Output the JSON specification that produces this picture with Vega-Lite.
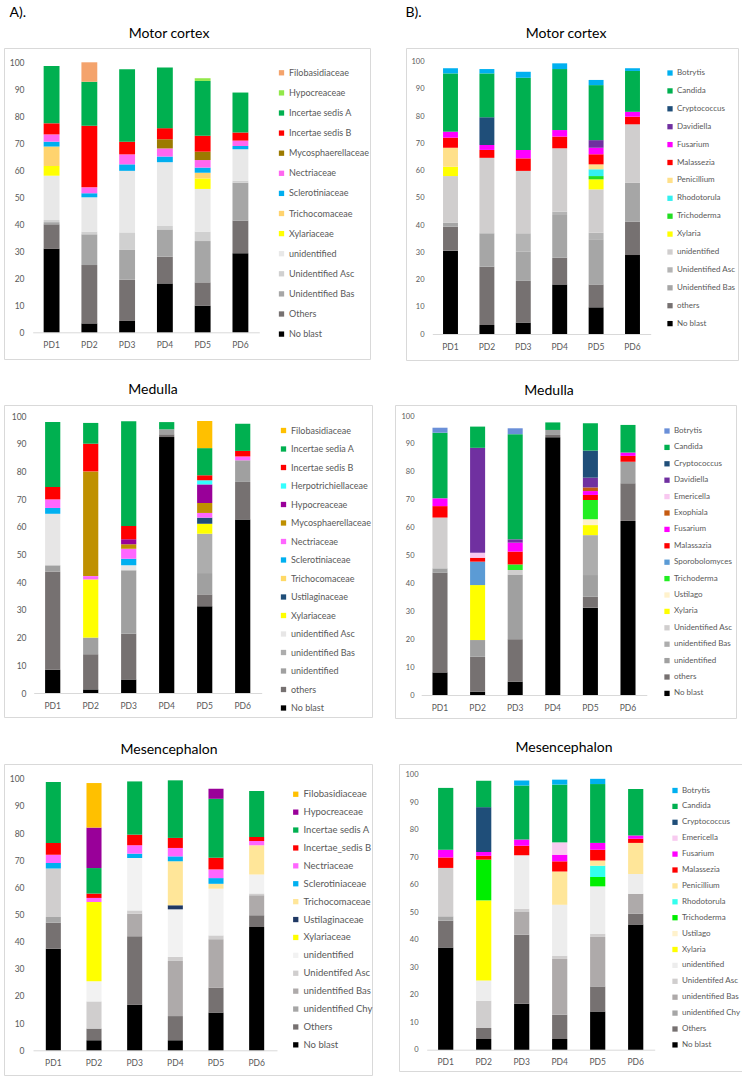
{
  "$schema": "https://vega.github.io/schema/vega-lite/v6.json",
  "padding": {"left": 3, "top": 5, "right": 0, "bottom": 0},
  "datasets": {
    "ma": [
      {"pd": "PD1", "t": "No blast", "v": 30.9}, {"pd": "PD1", "t": "Others", "v": 9.1}, {"pd": "PD1", "t": "Unidentified Bas", "v": 0.8}, {"pd": "PD1", "t": "Unidentified Asc", "v": 0.8}, {"pd": "PD1", "t": "unidentified", "v": 16.4}, {"pd": "PD1", "t": "Xylariaceae", "v": 3.6}, {"pd": "PD1", "t": "Trichocomaceae", "v": 7.2}, {"pd": "PD1", "t": "Sclerotiniaceae", "v": 1.8}, {"pd": "PD1", "t": "Nectriaceae", "v": 2.7}, {"pd": "PD1", "t": "Incertae sedis B", "v": 4.1}, {"pd": "PD1", "t": "Incertae sedis A", "v": 21.2},
      {"pd": "PD2", "t": "No blast", "v": 3.3}, {"pd": "PD2", "t": "Others", "v": 21.6}, {"pd": "PD2", "t": "Unidentified Bas", "v": 11.4}, {"pd": "PD2", "t": "Unidentified Asc", "v": 1.0}, {"pd": "PD2", "t": "unidentified", "v": 12.7}, {"pd": "PD2", "t": "Sclerotiniaceae", "v": 1.5}, {"pd": "PD2", "t": "Nectriaceae", "v": 2.2}, {"pd": "PD2", "t": "Incertae sedis B", "v": 22.8}, {"pd": "PD2", "t": "Incertae sedis A", "v": 16.3}, {"pd": "PD2", "t": "Filobasidiaceae", "v": 7.2},
      {"pd": "PD3", "t": "No blast", "v": 4.2}, {"pd": "PD3", "t": "Others", "v": 15.3}, {"pd": "PD3", "t": "Unidentified Bas", "v": 11.0}, {"pd": "PD3", "t": "Unidentified Asc", "v": 6.5}, {"pd": "PD3", "t": "unidentified", "v": 22.8}, {"pd": "PD3", "t": "Sclerotiniaceae", "v": 2.4}, {"pd": "PD3", "t": "Nectriaceae", "v": 3.7}, {"pd": "PD3", "t": "Incertae sedis B", "v": 4.7}, {"pd": "PD3", "t": "Incertae sedis A", "v": 26.8},
      {"pd": "PD4", "t": "No blast", "v": 18.1}, {"pd": "PD4", "t": "Others", "v": 9.9}, {"pd": "PD4", "t": "Unidentified Bas", "v": 10.1}, {"pd": "PD4", "t": "Unidentified Asc", "v": 1.3}, {"pd": "PD4", "t": "unidentified", "v": 23.6}, {"pd": "PD4", "t": "Sclerotiniaceae", "v": 2.1}, {"pd": "PD4", "t": "Nectriaceae", "v": 3.0}, {"pd": "PD4", "t": "Mycosphaerellaceae", "v": 3.4}, {"pd": "PD4", "t": "Incertae sedis B", "v": 4.1}, {"pd": "PD4", "t": "Incertae sedis A", "v": 22.5},
      {"pd": "PD5", "t": "No blast", "v": 9.9}, {"pd": "PD5", "t": "Others", "v": 8.6}, {"pd": "PD5", "t": "Unidentified Bas", "v": 15.3}, {"pd": "PD5", "t": "Unidentified Asc", "v": 3.5}, {"pd": "PD5", "t": "unidentified", "v": 15.8}, {"pd": "PD5", "t": "Xylariaceae", "v": 3.9}, {"pd": "PD5", "t": "Trichocomaceae", "v": 2.1}, {"pd": "PD5", "t": "Sclerotiniaceae", "v": 1.9}, {"pd": "PD5", "t": "Nectriaceae", "v": 2.8}, {"pd": "PD5", "t": "Mycosphaerellaceae", "v": 3.1}, {"pd": "PD5", "t": "Incertae sedis B", "v": 5.9}, {"pd": "PD5", "t": "Incertae sedis A", "v": 20.3}, {"pd": "PD5", "t": "Hypocreaceae", "v": 1.0},
      {"pd": "PD6", "t": "No blast", "v": 29.3}, {"pd": "PD6", "t": "Others", "v": 12.1}, {"pd": "PD6", "t": "Unidentified Bas", "v": 14.0}, {"pd": "PD6", "t": "Unidentified Asc", "v": 0.8}, {"pd": "PD6", "t": "unidentified", "v": 11.6}, {"pd": "PD6", "t": "Sclerotiniaceae", "v": 1.2}, {"pd": "PD6", "t": "Nectriaceae", "v": 2.0}, {"pd": "PD6", "t": "Incertae sedis B", "v": 3.0}, {"pd": "PD6", "t": "Incertae sedis A", "v": 14.8}
    ],
    "mb": [
      {"pd": "PD1", "t": "No blast", "v": 30.6}, {"pd": "PD1", "t": "others", "v": 8.8}, {"pd": "PD1", "t": "Unidentified Bas", "v": 1.5}, {"pd": "PD1", "t": "unidentified", "v": 17.1}, {"pd": "PD1", "t": "Xylaria", "v": 3.4}, {"pd": "PD1", "t": "Penicillium", "v": 7.0}, {"pd": "PD1", "t": "Malassezia", "v": 3.7}, {"pd": "PD1", "t": "Fusarium", "v": 2.2}, {"pd": "PD1", "t": "Candida", "v": 21.4}, {"pd": "PD1", "t": "Botrytis", "v": 1.9},
      {"pd": "PD2", "t": "No blast", "v": 3.3}, {"pd": "PD2", "t": "others", "v": 21.4}, {"pd": "PD2", "t": "Unidentified Bas", "v": 12.3}, {"pd": "PD2", "t": "unidentified", "v": 27.7}, {"pd": "PD2", "t": "Malassezia", "v": 2.9}, {"pd": "PD2", "t": "Fusarium", "v": 1.8}, {"pd": "PD2", "t": "Cryptococcus", "v": 10.2}, {"pd": "PD2", "t": "Candida", "v": 16.1}, {"pd": "PD2", "t": "Botrytis", "v": 1.6},
      {"pd": "PD3", "t": "No blast", "v": 4.2}, {"pd": "PD3", "t": "others", "v": 15.3}, {"pd": "PD3", "t": "Unidentified Bas", "v": 10.7}, {"pd": "PD3", "t": "Unidentified Asc", "v": 6.8}, {"pd": "PD3", "t": "unidentified", "v": 22.9}, {"pd": "PD3", "t": "Malassezia", "v": 4.6}, {"pd": "PD3", "t": "Fusarium", "v": 3.1}, {"pd": "PD3", "t": "Candida", "v": 26.5}, {"pd": "PD3", "t": "Botrytis", "v": 2.2},
      {"pd": "PD4", "t": "No blast", "v": 18.2}, {"pd": "PD4", "t": "others", "v": 9.8}, {"pd": "PD4", "t": "Unidentified Bas", "v": 15.7}, {"pd": "PD4", "t": "Unidentified Asc", "v": 1.2}, {"pd": "PD4", "t": "unidentified", "v": 23.3}, {"pd": "PD4", "t": "Malassezia", "v": 4.3}, {"pd": "PD4", "t": "Fusarium", "v": 2.4}, {"pd": "PD4", "t": "Candida", "v": 22.4}, {"pd": "PD4", "t": "Botrytis", "v": 2.1},
      {"pd": "PD5", "t": "No blast", "v": 9.8}, {"pd": "PD5", "t": "others", "v": 8.4}, {"pd": "PD5", "t": "Unidentified Bas", "v": 16.6}, {"pd": "PD5", "t": "Unidentified Asc", "v": 2.4}, {"pd": "PD5", "t": "unidentified", "v": 15.9}, {"pd": "PD5", "t": "Xylaria", "v": 3.7}, {"pd": "PD5", "t": "Trichoderma", "v": 1.2}, {"pd": "PD5", "t": "Rhodotorula", "v": 2.5}, {"pd": "PD5", "t": "Penicillium", "v": 1.8}, {"pd": "PD5", "t": "Malassezia", "v": 3.7}, {"pd": "PD5", "t": "Fusarium", "v": 2.4}, {"pd": "PD5", "t": "Davidiella", "v": 2.8}, {"pd": "PD5", "t": "Candida", "v": 20.2}, {"pd": "PD5", "t": "Botrytis", "v": 1.9},
      {"pd": "PD6", "t": "No blast", "v": 29.0}, {"pd": "PD6", "t": "others", "v": 12.2}, {"pd": "PD6", "t": "Unidentified Bas", "v": 14.4}, {"pd": "PD6", "t": "unidentified", "v": 21.4}, {"pd": "PD6", "t": "Malassezia", "v": 2.8}, {"pd": "PD6", "t": "Fusarium", "v": 1.8}, {"pd": "PD6", "t": "Candida", "v": 15.0}, {"pd": "PD6", "t": "Botrytis", "v": 1.0}
    ],
    "da": [
      {"pd": "PD1", "t": "No blast", "v": 8.4}, {"pd": "PD1", "t": "others", "v": 35.5}, {"pd": "PD1", "t": "unidentified", "v": 2.2}, {"pd": "PD1", "t": "unidentified Asc", "v": 18.6}, {"pd": "PD1", "t": "Sclerotiniaceae", "v": 2.1}, {"pd": "PD1", "t": "Nectriaceae", "v": 3.1}, {"pd": "PD1", "t": "Incertae sedis B", "v": 4.5}, {"pd": "PD1", "t": "Incertae sedia A", "v": 23.4},
      {"pd": "PD2", "t": "No blast", "v": 1.3}, {"pd": "PD2", "t": "others", "v": 12.7}, {"pd": "PD2", "t": "unidentified", "v": 6.0}, {"pd": "PD2", "t": "Xylariaceae", "v": 21.0}, {"pd": "PD2", "t": "Nectriaceae", "v": 1.2}, {"pd": "PD2", "t": "Mycosphaerellaceae", "v": 37.8}, {"pd": "PD2", "t": "Incertae sedis B", "v": 10.0}, {"pd": "PD2", "t": "Incertae sedia A", "v": 7.5},
      {"pd": "PD3", "t": "No blast", "v": 4.9}, {"pd": "PD3", "t": "others", "v": 16.5}, {"pd": "PD3", "t": "unidentified", "v": 22.9}, {"pd": "PD3", "t": "unidentified Asc", "v": 1.8}, {"pd": "PD3", "t": "Sclerotiniaceae", "v": 2.4}, {"pd": "PD3", "t": "Nectriaceae", "v": 3.6}, {"pd": "PD3", "t": "Mycosphaerellaceae", "v": 1.6}, {"pd": "PD3", "t": "Hypocreaceae", "v": 1.8}, {"pd": "PD3", "t": "Incertae sedis B", "v": 4.8}, {"pd": "PD3", "t": "Incertae sedia A", "v": 37.8},
      {"pd": "PD4", "t": "No blast", "v": 92.4}, {"pd": "PD4", "t": "others", "v": 1.0}, {"pd": "PD4", "t": "unidentified", "v": 1.8}, {"pd": "PD4", "t": "Incertae sedia A", "v": 2.6},
      {"pd": "PD5", "t": "No blast", "v": 31.3}, {"pd": "PD5", "t": "others", "v": 4.3}, {"pd": "PD5", "t": "unidentified", "v": 7.7}, {"pd": "PD5", "t": "unidentified Bas", "v": 14.2}, {"pd": "PD5", "t": "Xylariaceae", "v": 3.6}, {"pd": "PD5", "t": "Ustilaginaceae", "v": 2.2}, {"pd": "PD5", "t": "Nectriaceae", "v": 1.7}, {"pd": "PD5", "t": "Mycosphaerellaceae", "v": 3.6}, {"pd": "PD5", "t": "Hypocreaceae", "v": 6.7}, {"pd": "PD5", "t": "Herpotrichiellaceae", "v": 1.5}, {"pd": "PD5", "t": "Incertae sedis B", "v": 1.8}, {"pd": "PD5", "t": "Incertae sedia A", "v": 9.8}, {"pd": "PD5", "t": "Filobasidiaceae", "v": 9.8},
      {"pd": "PD6", "t": "No blast", "v": 62.6}, {"pd": "PD6", "t": "others", "v": 13.6}, {"pd": "PD6", "t": "unidentified", "v": 7.8}, {"pd": "PD6", "t": "Nectriaceae", "v": 1.4}, {"pd": "PD6", "t": "Incertae sedis B", "v": 2.0}, {"pd": "PD6", "t": "Incertae sedia A", "v": 9.8}
    ],
    "db": [
      {"pd": "PD1", "t": "No blast", "v": 8.1}, {"pd": "PD1", "t": "others", "v": 35.7}, {"pd": "PD1", "t": "unidentified", "v": 1.6}, {"pd": "PD1", "t": "Unidentified Asc", "v": 18.2}, {"pd": "PD1", "t": "Malassazia", "v": 4.1}, {"pd": "PD1", "t": "Fusarium", "v": 2.8}, {"pd": "PD1", "t": "Candida", "v": 23.5}, {"pd": "PD1", "t": "Botrytis", "v": 1.8},
      {"pd": "PD2", "t": "No blast", "v": 1.2}, {"pd": "PD2", "t": "others", "v": 12.5}, {"pd": "PD2", "t": "unidentified", "v": 6.0}, {"pd": "PD2", "t": "Xylaria", "v": 19.7}, {"pd": "PD2", "t": "Sporobolomyces", "v": 8.4}, {"pd": "PD2", "t": "Malassazia", "v": 1.4}, {"pd": "PD2", "t": "Emericella", "v": 1.8}, {"pd": "PD2", "t": "Davidiella", "v": 37.6}, {"pd": "PD2", "t": "Candida", "v": 7.6},
      {"pd": "PD3", "t": "No blast", "v": 4.8}, {"pd": "PD3", "t": "others", "v": 15.2}, {"pd": "PD3", "t": "unidentified", "v": 23.2}, {"pd": "PD3", "t": "Unidentified Asc", "v": 1.6}, {"pd": "PD3", "t": "Trichoderma", "v": 2.0}, {"pd": "PD3", "t": "Malassazia", "v": 4.6}, {"pd": "PD3", "t": "Fusarium", "v": 3.2}, {"pd": "PD3", "t": "Davidiella", "v": 1.2}, {"pd": "PD3", "t": "Candida", "v": 37.7}, {"pd": "PD3", "t": "Botrytis", "v": 2.1},
      {"pd": "PD4", "t": "No blast", "v": 92.4}, {"pd": "PD4", "t": "others", "v": 0.8}, {"pd": "PD4", "t": "unidentified", "v": 1.8}, {"pd": "PD4", "t": "Candida", "v": 2.7},
      {"pd": "PD5", "t": "No blast", "v": 31.3}, {"pd": "PD5", "t": "others", "v": 3.9}, {"pd": "PD5", "t": "unidentified", "v": 7.8}, {"pd": "PD5", "t": "unidentified Bas", "v": 14.3}, {"pd": "PD5", "t": "Xylaria", "v": 3.6}, {"pd": "PD5", "t": "Ustilago", "v": 2.1}, {"pd": "PD5", "t": "Trichoderma", "v": 6.9}, {"pd": "PD5", "t": "Malassazia", "v": 1.8}, {"pd": "PD5", "t": "Fusarium", "v": 1.4}, {"pd": "PD5", "t": "Exophiala", "v": 1.3}, {"pd": "PD5", "t": "Davidiella", "v": 3.5}, {"pd": "PD5", "t": "Cryptococcus", "v": 9.7}, {"pd": "PD5", "t": "Candida", "v": 9.8},
      {"pd": "PD6", "t": "No blast", "v": 62.4}, {"pd": "PD6", "t": "others", "v": 13.5}, {"pd": "PD6", "t": "unidentified", "v": 7.7}, {"pd": "PD6", "t": "Malassazia", "v": 2.1}, {"pd": "PD6", "t": "Fusarium", "v": 1.2}, {"pd": "PD6", "t": "Candida", "v": 9.9}
    ],
    "sa": [
      {"pd": "PD1", "t": "No blast", "v": 37.4}, {"pd": "PD1", "t": "Others", "v": 9.6}, {"pd": "PD1", "t": "unidentified Chy", "v": 2.1}, {"pd": "PD1", "t": "Unidentifed Asc", "v": 17.8}, {"pd": "PD1", "t": "Sclerotiniaceae", "v": 2.1}, {"pd": "PD1", "t": "Nectriaceae", "v": 3.0}, {"pd": "PD1", "t": "Incertae_sedis B", "v": 4.3}, {"pd": "PD1", "t": "Incertae sedis A", "v": 22.5},
      {"pd": "PD2", "t": "No blast", "v": 3.7}, {"pd": "PD2", "t": "Others", "v": 4.3}, {"pd": "PD2", "t": "Unidentifed Asc", "v": 10.0}, {"pd": "PD2", "t": "unidentified", "v": 7.4}, {"pd": "PD2", "t": "Xylariaceae", "v": 29.2}, {"pd": "PD2", "t": "Nectriaceae", "v": 1.5}, {"pd": "PD2", "t": "Incertae_sedis B", "v": 1.6}, {"pd": "PD2", "t": "Incertae sedis A", "v": 9.4}, {"pd": "PD2", "t": "Hypocreaceae", "v": 14.9}, {"pd": "PD2", "t": "Filobasidiaceae", "v": 16.4},
      {"pd": "PD3", "t": "No blast", "v": 16.8}, {"pd": "PD3", "t": "Others", "v": 25.2}, {"pd": "PD3", "t": "unidentified Bas", "v": 8.3}, {"pd": "PD3", "t": "Unidentifed Asc", "v": 1.2}, {"pd": "PD3", "t": "unidentified", "v": 19.3}, {"pd": "PD3", "t": "Sclerotiniaceae", "v": 1.6}, {"pd": "PD3", "t": "Nectriaceae", "v": 3.1}, {"pd": "PD3", "t": "Incertae_sedis B", "v": 3.9}, {"pd": "PD3", "t": "Incertae sedis A", "v": 19.6},
      {"pd": "PD4", "t": "No blast", "v": 3.7}, {"pd": "PD4", "t": "Others", "v": 8.9}, {"pd": "PD4", "t": "unidentified Bas", "v": 20.3}, {"pd": "PD4", "t": "Unidentifed Asc", "v": 1.5}, {"pd": "PD4", "t": "unidentified", "v": 17.5}, {"pd": "PD4", "t": "Ustilaginaceae", "v": 1.5}, {"pd": "PD4", "t": "Trichocomaceae", "v": 16.2}, {"pd": "PD4", "t": "Sclerotiniaceae", "v": 1.8}, {"pd": "PD4", "t": "Nectriaceae", "v": 3.1}, {"pd": "PD4", "t": "Incertae_sedis B", "v": 3.7}, {"pd": "PD4", "t": "Incertae sedis A", "v": 21.2},
      {"pd": "PD5", "t": "No blast", "v": 13.9}, {"pd": "PD5", "t": "Others", "v": 9.2}, {"pd": "PD5", "t": "unidentified Bas", "v": 17.8}, {"pd": "PD5", "t": "Unidentifed Asc", "v": 1.4}, {"pd": "PD5", "t": "unidentified", "v": 17.2}, {"pd": "PD5", "t": "Trichocomaceae", "v": 1.8}, {"pd": "PD5", "t": "Sclerotiniaceae", "v": 2.1}, {"pd": "PD5", "t": "Nectriaceae", "v": 3.2}, {"pd": "PD5", "t": "Incertae_sedis B", "v": 4.3}, {"pd": "PD5", "t": "Incertae sedis A", "v": 21.7}, {"pd": "PD5", "t": "Hypocreaceae", "v": 3.7},
      {"pd": "PD6", "t": "No blast", "v": 45.4}, {"pd": "PD6", "t": "Others", "v": 4.3}, {"pd": "PD6", "t": "unidentified Bas", "v": 7.4}, {"pd": "PD6", "t": "Unidentifed Asc", "v": 0.6}, {"pd": "PD6", "t": "unidentified", "v": 7.0}, {"pd": "PD6", "t": "Trichocomaceae", "v": 10.8}, {"pd": "PD6", "t": "Nectriaceae", "v": 1.6}, {"pd": "PD6", "t": "Incertae_sedis B", "v": 1.4}, {"pd": "PD6", "t": "Incertae sedis A", "v": 17.0}
    ],
    "sb": [
      {"pd": "PD1", "t": "No blast", "v": 37.2}, {"pd": "PD1", "t": "Others", "v": 9.7}, {"pd": "PD1", "t": "unidentified Chy", "v": 1.6}, {"pd": "PD1", "t": "Unidentifed Asc", "v": 17.6}, {"pd": "PD1", "t": "Malassezia", "v": 3.8}, {"pd": "PD1", "t": "Fusarium", "v": 2.8}, {"pd": "PD1", "t": "Candida", "v": 22.5},
      {"pd": "PD2", "t": "No blast", "v": 3.9}, {"pd": "PD2", "t": "Others", "v": 4.0}, {"pd": "PD2", "t": "Unidentifed Asc", "v": 9.9}, {"pd": "PD2", "t": "unidentified", "v": 7.4}, {"pd": "PD2", "t": "Xylaria", "v": 29.1}, {"pd": "PD2", "t": "Trichoderma", "v": 14.8}, {"pd": "PD2", "t": "Malassezia", "v": 1.4}, {"pd": "PD2", "t": "Fusarium", "v": 1.4}, {"pd": "PD2", "t": "Cryptococcus", "v": 16.3}, {"pd": "PD2", "t": "Candida", "v": 9.6},
      {"pd": "PD3", "t": "No blast", "v": 16.7}, {"pd": "PD3", "t": "Others", "v": 25.1}, {"pd": "PD3", "t": "unidentified Bas", "v": 8.3}, {"pd": "PD3", "t": "Unidentifed Asc", "v": 1.2}, {"pd": "PD3", "t": "unidentified", "v": 19.4}, {"pd": "PD3", "t": "Malassezia", "v": 3.5}, {"pd": "PD3", "t": "Fusarium", "v": 2.2}, {"pd": "PD3", "t": "Candida", "v": 19.7}, {"pd": "PD3", "t": "Botrytis", "v": 1.8},
      {"pd": "PD4", "t": "No blast", "v": 3.9}, {"pd": "PD4", "t": "Others", "v": 8.8}, {"pd": "PD4", "t": "unidentified Bas", "v": 20.3}, {"pd": "PD4", "t": "Unidentifed Asc", "v": 1.2}, {"pd": "PD4", "t": "unidentified", "v": 18.5}, {"pd": "PD4", "t": "Penicillium", "v": 12.1}, {"pd": "PD4", "t": "Malassezia", "v": 3.7}, {"pd": "PD4", "t": "Fusarium", "v": 2.4}, {"pd": "PD4", "t": "Emericella", "v": 4.5}, {"pd": "PD4", "t": "Candida", "v": 21.0}, {"pd": "PD4", "t": "Botrytis", "v": 1.8},
      {"pd": "PD5", "t": "No blast", "v": 13.9}, {"pd": "PD5", "t": "Others", "v": 9.1}, {"pd": "PD5", "t": "unidentified Bas", "v": 18.0}, {"pd": "PD5", "t": "Unidentifed Asc", "v": 1.2}, {"pd": "PD5", "t": "unidentified", "v": 17.2}, {"pd": "PD5", "t": "Trichoderma", "v": 3.4}, {"pd": "PD5", "t": "Rhodotorula", "v": 4.1}, {"pd": "PD5", "t": "Penicillium", "v": 1.9}, {"pd": "PD5", "t": "Malassezia", "v": 3.9}, {"pd": "PD5", "t": "Fusarium", "v": 2.5}, {"pd": "PD5", "t": "Candida", "v": 21.4}, {"pd": "PD5", "t": "Botrytis", "v": 1.9},
      {"pd": "PD6", "t": "No blast", "v": 45.5}, {"pd": "PD6", "t": "Others", "v": 4.0}, {"pd": "PD6", "t": "unidentified Bas", "v": 7.2}, {"pd": "PD6", "t": "unidentified", "v": 7.2}, {"pd": "PD6", "t": "Penicillium", "v": 11.3}, {"pd": "PD6", "t": "Malassezia", "v": 1.5}, {"pd": "PD6", "t": "Fusarium", "v": 1.2}, {"pd": "PD6", "t": "Candida", "v": 16.9}
    ]
  },
  "vconcat": [
    {
      "hconcat": [
        {
          "title": {"text": "A).", "anchor": "start", "dx": 6, "offset": 7},
          "vconcat": [
            {
              "width": 366, "height": 311,
              "title": {"text": "Motor cortex", "dx": -18, "offset": 7},
              "data": {"name": "ma"},
              "transform": [{"calculate": "indexof(['Filobasidiaceae','Hypocreaceae','Incertae sedis A','Incertae sedis B','Mycosphaerellaceae','Nectriaceae','Sclerotiniaceae','Trichocomaceae','Xylariaceae','unidentified','Unidentified Asc','Unidentified Bas','Others','No blast'], datum.t)", "as": "o"}],
              "mark": {"type": "bar"},
              "encoding": {
                "x": {"field": "pd", "type": "nominal", "title": null, "scale": {"range": [28.7, 255.3], "paddingInner": 0.58, "paddingOuter": 0.29}, "axis": {"offset": -26.7}},
                "y": {"field": "v", "type": "quantitative", "stack": "zero", "title": null, "scale": {"domain": [0, 100], "range": [284.3, 14.3], "nice": false}, "axis": {"offset": -20, "values": [0, 10, 20, 30, 40, 50, 60, 70, 80, 90, 100]}},
                "color": {"field": "t", "type": "nominal",
                  "scale": {"domain": ["Filobasidiaceae", "Hypocreaceae", "Incertae sedis A", "Incertae sedis B", "Mycosphaerellaceae", "Nectriaceae", "Sclerotiniaceae", "Trichocomaceae", "Xylariaceae", "unidentified", "Unidentified Asc", "Unidentified Bas", "Others", "No blast"],
                            "range": ["#F4A36C", "#92E84A", "#00B050", "#FF0000", "#9C7A00", "#FF66F0", "#00AEEF", "#FFD36E", "#FFFF00", "#E8E8E8", "#D0D0D0", "#A6A6A6", "#767171", "#000000"]},
                  "legend": {"title": null, "orient": "none", "legendX": 273, "legendY": 20.3, "rowPadding": 10.1, "labelFontSize": 9}},
                "order": {"field": "o", "sort": "descending"}
              }
            }
          ],
          "resolve": {"scale": {"color": "independent", "x": "independent", "y": "independent"}, "legend": {"color": "independent"}}
        },
        {
          "title": {"text": "B).", "anchor": "start", "dx": 0, "offset": 7},
          "vconcat": [
            {
              "width": 332, "height": 312,
              "title": {"text": "Motor cortex", "dx": -6, "offset": 7},
              "data": {"name": "mb"},
              "transform": [{"calculate": "indexof(['Botrytis','Candida','Cryptococcus','Davidiella','Fusarium','Malassezia','Penicillium','Rhodotorula','Trichoderma','Xylaria','unidentified','Unidentified Asc','Unidentified Bas','others','No blast'], datum.t)", "as": "o"}],
              "mark": {"type": "bar"},
              "encoding": {
                "x": {"field": "pd", "type": "nominal", "title": null, "scale": {"range": [26.3, 244.7], "paddingInner": 0.59, "paddingOuter": 0.295}, "axis": {"offset": -26}},
                "y": {"field": "v", "type": "quantitative", "stack": "zero", "title": null, "scale": {"domain": [0, 100], "range": [286, 13.7], "nice": false}, "axis": {"offset": -18, "values": [0, 10, 20, 30, 40, 50, 60, 70, 80, 90, 100], "labelFontSize": 7.5}},
                "color": {"field": "t", "type": "nominal",
                  "scale": {"domain": ["Botrytis", "Candida", "Cryptococcus", "Davidiella", "Fusarium", "Malassezia", "Penicillium", "Rhodotorula", "Trichoderma", "Xylaria", "unidentified", "Unidentified Asc", "Unidentified Bas", "others", "No blast"],
                            "range": ["#00B0F0", "#00B050", "#1F4E79", "#7030A0", "#FF00FF", "#FF0000", "#FFE08A", "#33F0F0", "#22DD22", "#FFFF00", "#D0CECE", "#B4B4B4", "#A6A6A6", "#767171", "#000000"]},
                  "legend": {"title": null, "orient": "none", "legendX": 260, "legendY": 21, "rowPadding": 9.9, "labelFontSize": 8}},
                "order": {"field": "o", "sort": "descending"}
              }
            }
          ],
          "resolve": {"scale": {"color": "independent", "x": "independent", "y": "independent"}, "legend": {"color": "independent"}}
        }
      ],
      "spacing": 34,
      "resolve": {"scale": {"color": "independent", "x": "independent", "y": "independent"}, "legend": {"color": "independent"}}
    },
    {
      "hconcat": [
        {
          "width": 368, "height": 312,
          "title": {"text": "Medulla", "dx": -35, "offset": 8},
          "data": {"name": "da"},
          "transform": [{"calculate": "indexof(['Filobasidiaceae','Incertae sedia A','Incertae sedis B','Herpotrichiellaceae','Hypocreaceae','Mycosphaerellaceae','Nectriaceae','Sclerotiniaceae','Trichocomaceae','Ustilaginaceae','Xylariaceae','unidentified Asc','unidentified Bas','unidentified','others','No blast'], datum.t)", "as": "o"}],
          "mark": {"type": "bar"},
          "encoding": {
            "x": {"field": "pd", "type": "nominal", "title": null, "scale": {"range": [29.7, 257.7], "paddingInner": 0.6, "paddingOuter": 0.3}, "axis": {"offset": -24}},
            "y": {"field": "v", "type": "quantitative", "stack": "zero", "title": null, "scale": {"domain": [0, 100], "range": [288, 11], "nice": false}, "axis": {"offset": -22, "values": [0, 10, 20, 30, 40, 50, 60, 70, 80, 90, 100]}},
            "color": {"field": "t", "type": "nominal",
              "scale": {"domain": ["Filobasidiaceae", "Incertae sedia A", "Incertae sedis B", "Herpotrichiellaceae", "Hypocreaceae", "Mycosphaerellaceae", "Nectriaceae", "Sclerotiniaceae", "Trichocomaceae", "Ustilaginaceae", "Xylariaceae", "unidentified Asc", "unidentified Bas", "unidentified", "others", "No blast"],
                        "range": ["#FFC000", "#00B050", "#FF0000", "#33FFFF", "#990099", "#BF9000", "#FF66FF", "#00B0F0", "#FFD966", "#1F4E79", "#FFFF00", "#E7E6E6", "#ADADAD", "#A0A0A0", "#767171", "#000000"]},
              "legend": {"title": null, "orient": "none", "legendX": 275, "legendY": 21, "rowPadding": 8.5, "labelFontSize": 9}},
            "order": {"field": "o", "sort": "descending"}
          }
        },
        {
          "width": 341, "height": 313,
          "title": {"text": "Medulla", "dx": -16.5, "offset": 7},
          "data": {"name": "db"},
          "transform": [{"calculate": "indexof(['Botrytis','Candida','Cryptococcus','Davidiella','Emericella','Exophiala','Fusarium','Malassazia','Sporobolomyces','Trichoderma','Ustilago','Xylaria','Unidentified Asc','unidentified Bas','unidentified','others','No blast'], datum.t)", "as": "o"}],
          "mark": {"type": "bar"},
          "encoding": {
            "x": {"field": "pd", "type": "nominal", "title": null, "scale": {"range": [26.2, 251.8], "paddingInner": 0.6, "paddingOuter": 0.3}, "axis": {"offset": -23}},
            "y": {"field": "v", "type": "quantitative", "stack": "zero", "title": null, "scale": {"domain": [0, 100], "range": [290, 11], "nice": false}, "axis": {"offset": -19, "values": [0, 10, 20, 30, 40, 50, 60, 70, 80, 90, 100], "labelFontSize": 7.5}},
            "color": {"field": "t", "type": "nominal",
              "scale": {"domain": ["Botrytis", "Candida", "Cryptococcus", "Davidiella", "Emericella", "Exophiala", "Fusarium", "Malassazia", "Sporobolomyces", "Trichoderma", "Ustilago", "Xylaria", "Unidentified Asc", "unidentified Bas", "unidentified", "others", "No blast"],
                        "range": ["#6A8FD8", "#00B050", "#1F4E79", "#7030A0", "#F8C8F0", "#C55A11", "#FF00FF", "#FF0000", "#5B9BD5", "#22EE22", "#FFF2CC", "#FFFF00", "#D0CECE", "#ADADAD", "#A0A0A0", "#767171", "#000000"]},
              "legend": {"title": null, "orient": "none", "legendX": 268, "legendY": 22, "rowPadding": 8.4, "labelFontSize": 8}},
            "order": {"field": "o", "sort": "descending"}
          }
        }
      ],
      "spacing": 21,
      "resolve": {"scale": {"color": "independent", "x": "independent", "y": "independent"}, "legend": {"color": "independent"}}
    },
    {
      "hconcat": [
        {
          "width": 368, "height": 311,
          "title": {"text": "Mesencephalon", "dx": -19, "offset": 7},
          "data": {"name": "sa"},
          "transform": [{"calculate": "indexof(['Filobasidiaceae','Hypocreaceae','Incertae sedis A','Incertae_sedis B','Nectriaceae','Sclerotiniaceae','Trichocomaceae','Ustilaginaceae','Xylariaceae','unidentified','Unidentifed Asc','unidentified Bas','unidentified Chy','Others','No blast'], datum.t)", "as": "o"}],
          "mark": {"type": "bar"},
          "encoding": {
            "x": {"field": "pd", "type": "nominal", "title": null, "scale": {"range": [29, 273], "paddingInner": 0.63, "paddingOuter": 0.315}, "axis": {"offset": -24.7}},
            "y": {"field": "v", "type": "quantitative", "stack": "zero", "title": null, "scale": {"domain": [0, 100], "range": [286.3, 14.7], "nice": false}, "axis": {"offset": -20, "values": [0, 10, 20, 30, 40, 50, 60, 70, 80, 90, 100]}},
            "color": {"field": "t", "type": "nominal",
              "scale": {"domain": ["Filobasidiaceae", "Hypocreaceae", "Incertae sedis A", "Incertae_sedis B", "Nectriaceae", "Sclerotiniaceae", "Trichocomaceae", "Ustilaginaceae", "Xylariaceae", "unidentified", "Unidentifed Asc", "unidentified Bas", "unidentified Chy", "Others", "No blast"],
                        "range": ["#FFC000", "#990099", "#00B050", "#FF0000", "#FF66FF", "#00B0F0", "#FFE699", "#1F3864", "#FFFF00", "#F2F2F2", "#D0CECE", "#AEAAAA", "#A6A6A6", "#767171", "#000000"]},
              "legend": {"title": null, "orient": "none", "legendX": 287, "legendY": 25.5, "rowPadding": 6.9, "labelFontSize": 9.5}},
            "order": {"field": "o", "sort": "descending"}
          }
        },
        {
          "width": 344, "height": 307,
          "title": {"text": "Mesencephalon", "dx": -7, "offset": 9},
          "data": {"name": "sb"},
          "transform": [{"calculate": "indexof(['Botrytis','Candida','Cryptococcus','Emericella','Fusarium','Malassezia','Penicillium','Rhodotorula','Trichoderma','Ustilago','Xylaria','unidentified','Unidentifed Asc','unidentified Bas','unidentified Chy','Others','No blast'], datum.t)", "as": "o"}],
          "mark": {"type": "bar"},
          "encoding": {
            "x": {"field": "pd", "type": "nominal", "title": null, "scale": {"range": [27.7, 255.7], "paddingInner": 0.6, "paddingOuter": 0.3}, "axis": {"offset": -21.3}},
            "y": {"field": "v", "type": "quantitative", "stack": "zero", "title": null, "scale": {"domain": [0, 100], "range": [285.7, 10.7], "nice": false}, "axis": {"offset": -19, "values": [0, 10, 20, 30, 40, 50, 60, 70, 80, 90, 100], "labelFontSize": 7.5}},
            "color": {"field": "t", "type": "nominal",
              "scale": {"domain": ["Botrytis", "Candida", "Cryptococcus", "Emericella", "Fusarium", "Malassezia", "Penicillium", "Rhodotorula", "Trichoderma", "Ustilago", "Xylaria", "unidentified", "Unidentifed Asc", "unidentified Bas", "unidentified Chy", "Others", "No blast"],
                        "range": ["#00B0F0", "#00B050", "#1F4E79", "#F8CBF0", "#FF00FF", "#FF0000", "#FFE699", "#33FFEE", "#00EE00", "#FFF2CC", "#FFFF00", "#EDEDED", "#D0CECE", "#AEAAAA", "#A6A6A6", "#767171", "#000000"]},
              "legend": {"title": null, "orient": "none", "legendX": 272, "legendY": 22.5, "rowPadding": 7.9, "labelFontSize": 8}},
            "order": {"field": "o", "sort": "descending"}
          }
        }
      ],
      "spacing": 24,
      "resolve": {"scale": {"color": "independent", "x": "independent", "y": "independent"}, "legend": {"color": "independent"}}
    }
  ],
  "spacing": 21,
  "resolve": {"scale": {"color": "independent", "x": "independent", "y": "independent"}, "legend": {"color": "independent"}},
  "config": {
    "font": "Lato",
    "background": "white",
    "view": {"stroke": "#d9d9d9", "strokeWidth": 1},
    "title": {"fontSize": 14, "fontWeight": "normal", "color": "#000000", "font": "Lato"},
    "axis": {"labelFont": "Lato", "labelColor": "#595959", "labelFontSize": 8.5, "ticks": false, "grid": false},
    "axisX": {"domain": true, "domainColor": "#d9d9d9", "labelAngle": 0, "labelPadding": 8},
    "axisY": {"domain": false, "labelPadding": 0},
    "legend": {"symbolType": "square", "symbolSize": 28, "symbolStrokeWidth": 0, "labelColor": "#595959", "labelFont": "Lato", "padding": 0, "labelOffset": 3, "labelLimit": 200}
  }
}
